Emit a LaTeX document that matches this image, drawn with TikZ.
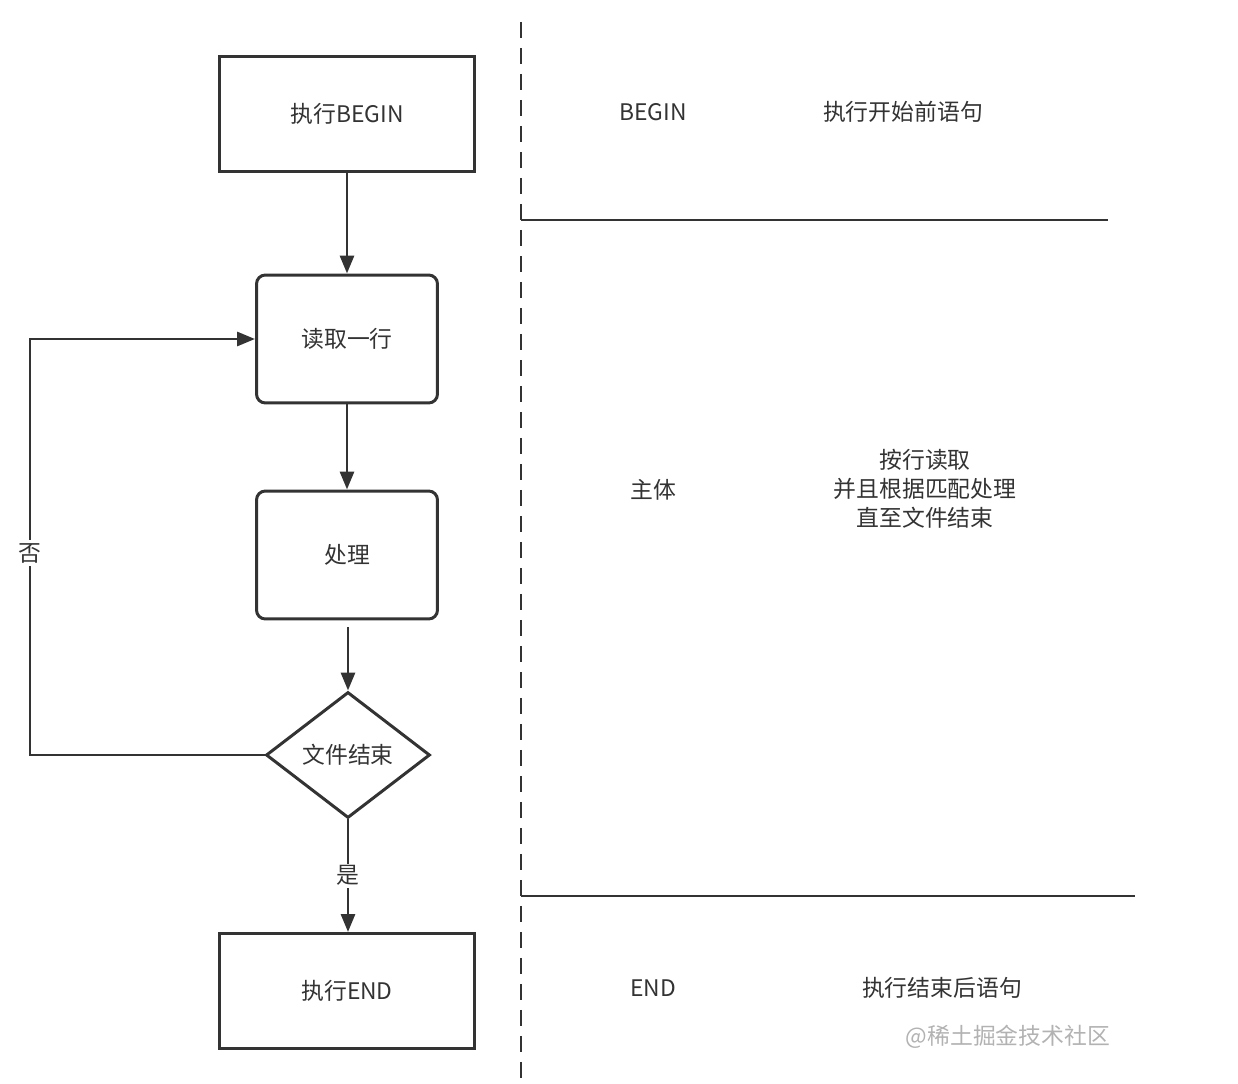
\documentclass[tikz,border=0pt]{standalone}
\usepackage{fontspec}
\setmainfont{Noto Sans CJK SC}
\usetikzlibrary{arrows.meta, shapes.geometric, positioning}
\definecolor{ink}{HTML}{333333}
\tikzset{
    stepbox/.style={draw=ink, line width=1.7pt, text=ink, minimum width=5.1cm, minimum height=2.3cm},
    roundbox/.style={draw=ink, line width=1.7pt, text=ink, rounded corners=5pt, minimum width=3.62cm, minimum height=2.56cm},
    judge/.style={draw=ink, line width=1.7pt, text=ink, diamond, aspect=1.3, inner sep=0pt, minimum width=3.28cm, minimum height=2.52cm},
    flow/.style={draw=ink, line width=1.7pt, -{Triangle[length=0.36cm, width=0.28cm]}},
    lane/.style={draw=ink, line width=1.6pt},
    label/.style={text=ink, inner sep=1pt},
    }
\begin{document}
\begin{tikzpicture}[x=0.02cm, y=-0.02cm, font=\fontsize{13pt}{16.5pt}\selectfont]
    \useasboundingbox (0,0) rectangle (1238,1084);

    % flow chart
    \node[stepbox] (begin) at (347,114) {执行BEGIN};
    \node[roundbox] (read) at (347,339) {读取一行};
    \node[roundbox] (proc) at (347,555) {处理};
    \node[judge] (eof) at (348,755) {文件结束};
    \node[stepbox] (finish) at (347,991) {执行END};

    \draw[flow] (begin) -- (read);
    \draw[flow] (read) -- (proc);
    \draw[flow] (proc.south) ++(1,7) -- (eof.north);
    \draw[flow] (eof.south) -- node[label, fill=white] {是} (eof.south |- finish.north);

    \coordinate (back) at (30,755);
    \draw[flow] (eof.west) -- (back) |- (read.west);
    \node[label, fill=white, inner sep=2pt] (no) at (30,553) {否};

    % lanes
    \coordinate (top) at (521,22);
    \coordinate (bottom) at (521,1080);
    \coordinate (cut1) at (521,220);
    \coordinate (cut2) at (521,896);
    \draw[lane, dash pattern=on 0.32cm off 0.2cm] (top) -- (bottom);
    \draw[lane] (cut1) -- ++(587,0);
    \draw[lane] (cut2) -- ++(614,0);

    \node[label] (lbegin) at (653,112) {BEGIN};
    \node[label] (tbegin) at (903,112) {执行开始前语句};
    \node[label] (lmain) at (653,490) {主体};
    \node[label, align=center] (tmain) at (925,489) {按行读取\\并且根据匹配处理\\直至文件结束};
    \node[label] (lend) at (653,988) {END};
    \node[label] (tend) at (942,988) {执行结束后语句};
    \node[text=black!30, inner sep=1pt] (mark) at (1008,1037) {@稀土掘金技术社区};

    \end{tikzpicture}
\end{document}
